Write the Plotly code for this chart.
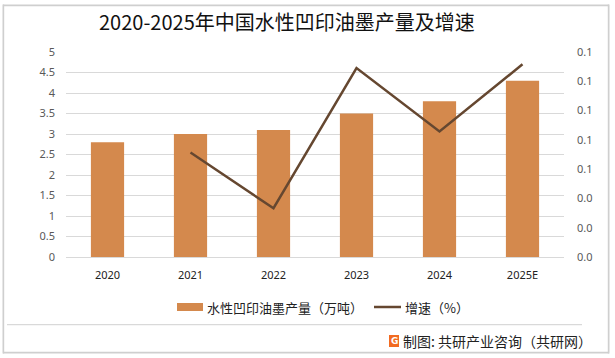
import plotly.graph_objects as go

years = ["2020", "2021", "2022", "2023", "2024", "2025E"]
output = [2.8, 3.0, 3.1, 3.5, 3.8, 4.3]
growth_years = ["2021", "2022", "2023", "2024", "2025E"]
growth = [0.0714, 0.0333, 0.129, 0.0857, 0.1316]

W, H = 615, 358
L, R, T, B = 66, 564, 52, 257  # plot area in pixels

def px(x):
    return x / W

def py(y):
    return 1 - y / H

BAR = "#D4894D"
LINE = "#654730"
FRAME = "#cfcfcf"
FONT = "Noto Sans CJK SC"

fig = go.Figure()
fig.add_trace(go.Bar(x=years, y=output, name="水性凹印油墨产量（万吨）",
                     marker=dict(color=BAR, line=dict(width=0)), width=0.4, yaxis="y"))
fig.add_trace(go.Scatter(x=growth_years, y=growth, name="增速（%）", mode="lines",
                         line=dict(color=LINE, width=2.5), yaxis="y2"))

def rect(x0, y0, x1, y1, color):
    return dict(type="rect", xref="paper", yref="paper", x0=px(x0), x1=px(x1),
                y0=py(y0), y1=py(y1), line=dict(width=0), fillcolor=color, layer="above")

shapes = [
    # page frame and separator
    rect(3, 4.5, 609, 6.2, FRAME),
    rect(3, 351.8, 609, 353.5, FRAME),
    rect(2.5, 4.5, 4.2, 353.5, FRAME),
    rect(607.8, 4.5, 609.5, 353.5, FRAME),
    rect(7, 324, 582, 325.2, "#d9d9d9"),
    # logo
    rect(389, 335, 399, 347, "#F26B21"),
    # custom legend swatches
    rect(177, 303, 203, 311, BAR),
    dict(type="line", xref="paper", yref="paper", x0=px(374), x1=px(401), y0=py(307), y1=py(307),
         line=dict(color=LINE, width=2.5)),
]

annotations = [
    dict(text="2020-2025年中国水性凹印油墨产量及增速", xref="paper", yref="paper",
         x=px(97), y=py(22), xanchor="left", yanchor="middle", showarrow=False,
         font=dict(family=FONT, size=20, color="#111111")),
    dict(text="水性凹印油墨产量（万吨）", xref="paper", yref="paper",
         x=px(205), y=py(307), xanchor="left", yanchor="middle", showarrow=False,
         font=dict(family=FONT, size=13, color="#222222")),
    dict(text="增速（%）", xref="paper", yref="paper",
         x=px(403), y=py(307), xanchor="left", yanchor="middle", showarrow=False,
         font=dict(family=FONT, size=13, color="#222222")),
    dict(text="制图: 共研产业咨询（共研网）", xref="paper", yref="paper",
         x=px(401), y=py(341), xanchor="left", yanchor="middle", showarrow=False,
         font=dict(family=FONT, size=14, color="#222222")),
    dict(text="<b>G</b>", xref="paper", yref="paper",
         x=px(394), y=py(341), xanchor="center", yanchor="middle", showarrow=False,
         font=dict(family="DejaVu Sans", size=9, color="#ffffff")),
]

fig.update_layout(
    width=W, height=H,
    margin=dict(l=0, r=0, t=0, b=0, pad=0, autoexpand=False),
    paper_bgcolor="white", plot_bgcolor="white",
    font=dict(family=FONT, size=11, color="#595959"),
    showlegend=False,
    hovermode=False,
    xaxis=dict(type="category", domain=[L / W, R / W], showline=True, linecolor="#d9d9d9",
               linewidth=1, ticks="", automargin=False,
               tickfont=dict(family="Noto Sans", size=11, color="#222222"),
               ticklabelstandoff=8, showgrid=False),
    yaxis=dict(range=[0, 5], dtick=0.5, domain=[1 - B / H, 1 - T / H], showgrid=True,
               gridcolor="#d9d9d9", gridwidth=1, automargin=False,
               zeroline=False, showline=False, ticks="",
               tickfont=dict(family="Noto Sans", size=11, color="#595959"),
               ticklabelstandoff=10),
    yaxis2=dict(range=[0, 0.14], dtick=0.02, tickformat=".1f", overlaying="y", side="right",
                anchor="x", showgrid=False, zeroline=False, showline=False, ticks="",
                automargin=False,
                tickfont=dict(family="Noto Sans", size=11, color="#595959"),
                ticklabelstandoff=12),
    shapes=shapes,
    annotations=annotations,
)

fig.write_html("out.html", config={"displayModeBar": False},
               post_script="document.body.style.margin='0';document.body.style.padding='0';")
